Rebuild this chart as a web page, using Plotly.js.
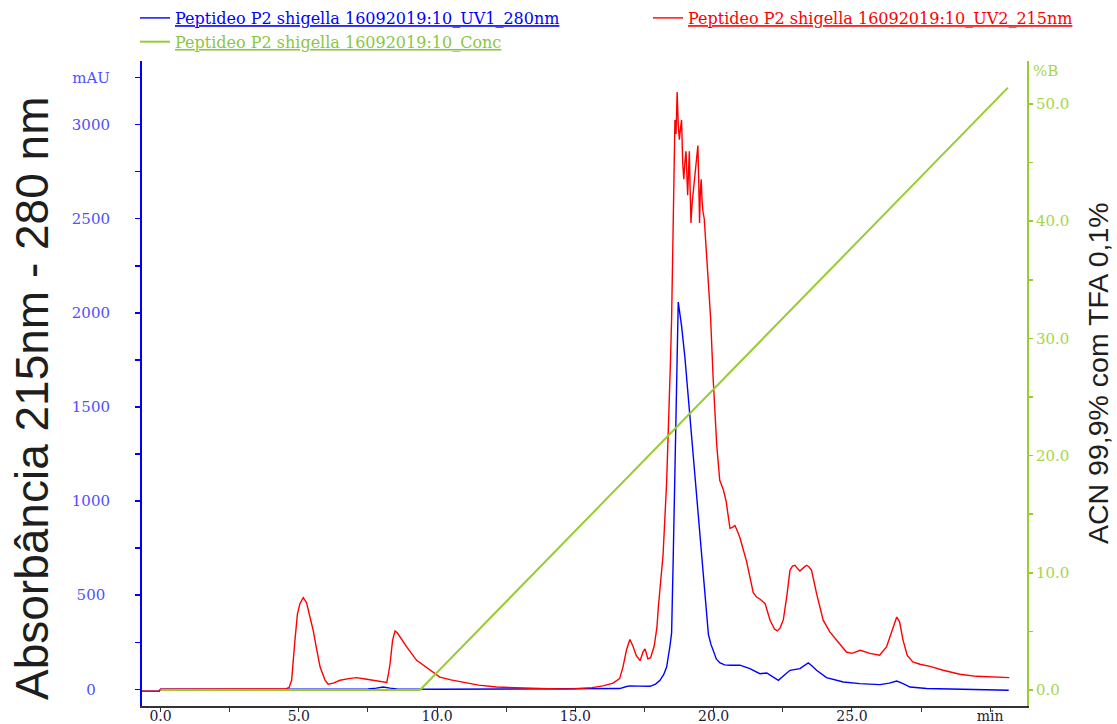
<!DOCTYPE html>
<html>
<head>
<meta charset="utf-8">
<script src="https://cdn.plot.ly/plotly-3.0.1.min.js"></script>
<style>html,body{margin:0;padding:0;background:#fff;}#chart{width:1117px;height:724px;}</style>
</head>
<body>
<div id="chart"></div>
<script>
// ---- data ----
const uv2Time = [-0.67,-0.05,0.0,2.0,4.0,4.55,4.65,4.74,4.86,4.95,5.04,5.16,5.28,5.4,5.52,5.65,5.77,5.95,6.06,6.25,6.49,6.8,7.09,7.4,7.69,7.95,8.18,8.24,8.3,8.39,8.48,8.56,8.66,8.9,9.26,9.74,10.1,10.5,10.94,11.5,12.15,13.0,14.0,14.55,15.0,15.6,16.0,16.36,16.6,16.72,16.85,16.97,17.08,17.2,17.34,17.45,17.52,17.62,17.72,17.85,17.95,18.0,18.1,18.17,18.3,18.36,18.44,18.48,18.52,18.56,18.6,18.64,18.68,18.72,18.76,18.8,18.84,18.88,18.92,18.96,19.0,19.04,19.06,19.1,19.12,19.15,19.18,19.22,19.26,19.3,19.36,19.4,19.43,19.46,19.49,19.52,19.55,19.58,19.61,19.66,19.72,19.8,19.89,19.98,20.06,20.11,20.22,20.35,20.45,20.59,20.68,20.77,20.86,20.95,21.19,21.43,21.55,21.67,21.86,22.04,22.2,22.3,22.4,22.52,22.65,22.76,22.85,22.94,23.04,23.12,23.24,23.36,23.45,23.54,23.72,23.96,24.2,24.45,24.8,25.0,25.3,25.65,26.0,26.25,26.5,26.62,26.72,26.85,27.0,27.2,27.46,27.82,28.3,28.9,29.5,30.1,30.69];
const uv2Values = [-10,-10,0,0,1,3,10,48,260,400,455,487,460,390,313,210,118,48,27,33,48,57,62,55,48,40,37,80,137,260,310,300,278,225,154,101,65,50,39,22,12,6,3,2,3,9,18,33,57,118,210,265,230,180,152,200,215,162,168,230,330,437,580,712,1100,1344,1750,1973,2400,2800,3025,2950,3173,3000,2920,2980,3025,2800,2710,2800,2858,2700,2625,2780,2858,2650,2478,2580,2644,2700,2816,2870,2889,2700,2478,2650,2710,2600,2541,2500,2354,2184,1973,1658,1400,1300,1110,1060,1000,855,860,870,840,805,680,515,490,480,455,367,320,310,325,370,500,632,655,659,640,628,645,659,650,632,510,367,305,260,198,191,207,191,181,225,330,384,360,260,180,145,133,122,101,80,69,65,62];

const uv1Time = [-0.67,-0.05,0.0,4.0,5.0,6.0,7.5,7.8,8.05,8.3,8.6,10.0,12.0,14.0,16.0,16.6,16.85,16.97,17.3,17.7,17.9,18.06,18.2,18.3,18.42,18.48,18.54,18.6,18.64,18.68,18.72,18.78,18.84,18.96,19.08,19.2,19.32,19.44,19.57,19.69,19.81,19.9,19.99,20.1,20.23,20.4,20.59,20.95,21.31,21.67,21.92,22.1,22.34,22.55,22.76,23.12,23.3,23.42,23.55,23.72,24.08,24.69,25.29,26.01,26.35,26.62,26.85,27.1,27.7,28.9,30.67];
const uv1Values = [-10,-10,0,1,2,1,2,6,12,6,1,0,1,0,1,4,15,18,17,16,28,48,80,118,230,300,712,1100,1344,1764,2057,2000,1931,1764,1553,1344,1132,921,712,499,292,240,200,160,140,130,128,128,110,83,87,70,48,75,101,110,130,140,125,101,62,39,30,25,33,44,30,12,4,0,-5];

const concTime = [0.0, 9.38, 30.64];
const concValues = [0.0, 0.0, 51.4];

const seriesNames = [
  'Peptideo P2 shigella 16092019:10_UV1_280nm',
  'Peptideo P2 shigella 16092019:10_UV2_215nm',
  'Peptideo P2 shigella 16092019:10_Conc'
];

const xTickVals = [0,2.5,5,7.5,10,12.5,15,17.5,20,22.5,25,27.5,30];
const xTickText = ['0.0','','5.0','','10.0','','15.0','','20.0','','25.0','','min'];
const yTickVals = [0,250,500,750,1000,1250,1500,1750,2000,2250,2500,2750,3000,3250];
const yTickText = ['0\u00a0\u00a0\u00a0','','500\u00a0','','1000','','1500','','2000','','2500','','3000','mAU'];
const y2TickVals = [0,5,10,15,20,25,30,35,40,45,50];
const y2TickText = ['0.0','','10.0','','20.0','','30.0','','40.0','','50.0'];

const leftTitle = 'Absorbância 215nm - 280 nm';
const rightTitle = 'ACN 99,9% com TFA 0,1%';

// ---- drawing ----
const BLUE = '#0000ff', RED = '#ff0000', GREEN = '#99cc33';
function legendName(name, color) {
  return '<span style="color:' + color + ';text-decoration:underline">' + name + '</span>';
}

const traces = [
  {x: uv1Time, y: uv1Values, type: 'scatter', mode: 'lines', name: legendName(seriesNames[0], BLUE),
   line: {color: BLUE, width: 1.4}, yaxis: 'y', legend: 'legend'},
  {x: uv2Time, y: uv2Values, type: 'scatter', mode: 'lines', name: legendName(seriesNames[1], RED),
   line: {color: RED, width: 1.4}, yaxis: 'y', legend: 'legend2'},
  {x: concTime, y: concValues, type: 'scatter', mode: 'lines', name: legendName(seriesNames[2], '#8cc63f'),
   line: {color: GREEN, width: 2}, yaxis: 'y2', legend: 'legend'}
];

const serif = 'DejaVu Serif, Liberation Serif, serif';
const titleFont = 'Liberation Sans, Arial, sans-serif';

const legendBase = {
  orientation: 'v', xref: 'container', yref: 'container',
  y: 1 - 1/724, xanchor: 'left', yanchor: 'top',
  font: {family: serif, size: 16, color: '#333'},
  bgcolor: 'rgba(0,0,0,0)', borderwidth: 0, tracegroupgap: 0
};

const layout = {
  width: 1117, height: 724,
  margin: {l: 142, r: 90, t: 61, b: 18, pad: 0, autoexpand: false},
  paper_bgcolor: '#ffffff', plot_bgcolor: '#ffffff',
  showlegend: true,
  legend: Object.assign({}, legendBase, {x: 135/1117}),
  legend2: Object.assign({}, legendBase, {x: 648/1117}),
  xaxis: {
    range: [-0.67, 31.33], showgrid: false, zeroline: false,
    showline: true, linecolor: '#333333', linewidth: 1.5,
    ticks: 'outside', ticklen: 4, tickwidth: 1, tickcolor: '#333333',
    tickvals: xTickVals, ticktext: xTickText, ticklabelstandoff: -7,
    tickfont: {family: serif, size: 14, color: '#1a1a3a'}
  },
  yaxis: {
    range: [-88.7, 3338], showgrid: false, zeroline: false,
    showline: true, linecolor: BLUE, linewidth: 2,
    ticks: 'outside', ticklen: 5, tickwidth: 1.5, tickcolor: BLUE,
    tickvals: yTickVals, ticktext: yTickText, ticklabelstandoff: 22,
    tickfont: {family: serif, size: 15, color: '#5050ff'}
  },
  yaxis2: {
    overlaying: 'y', side: 'right', anchor: 'x',
    range: [-1.365, 53.67], showgrid: false, zeroline: false,
    showline: true, linecolor: GREEN, linewidth: 2,
    ticks: 'outside', ticklen: 4, tickwidth: 1.5, tickcolor: GREEN,
    tickvals: y2TickVals, ticktext: y2TickText,
    tickfont: {family: serif, size: 15, color: '#a6d64a'}
  },
  annotations: [
    {text: '%B', xref: 'paper', x: 1, xanchor: 'left', xshift: 4, yref: 'y2', y: 52.8,
     showarrow: false, font: {family: serif, size: 15, color: '#a6d64a'}},
    {text: leftTitle, xref: 'paper', yref: 'paper', x: (32 - 142) / 885, y: (706 - 399) / 645,
     xanchor: 'center', yanchor: 'middle', textangle: -90, showarrow: false,
     font: {family: titleFont, size: 46, color: '#1e1e1e'}},
    {text: rightTitle, xref: 'paper', yref: 'paper', x: (1098 - 142) / 885, y: (706 - 373) / 645,
     xanchor: 'center', yanchor: 'middle', textangle: -90, showarrow: false,
     font: {family: titleFont, size: 28.5, color: '#1e1e1e'}}
  ]
};

Plotly.newPlot('chart', traces, layout, {displayModeBar: false, staticPlot: true});
</script>
</body>
</html>
